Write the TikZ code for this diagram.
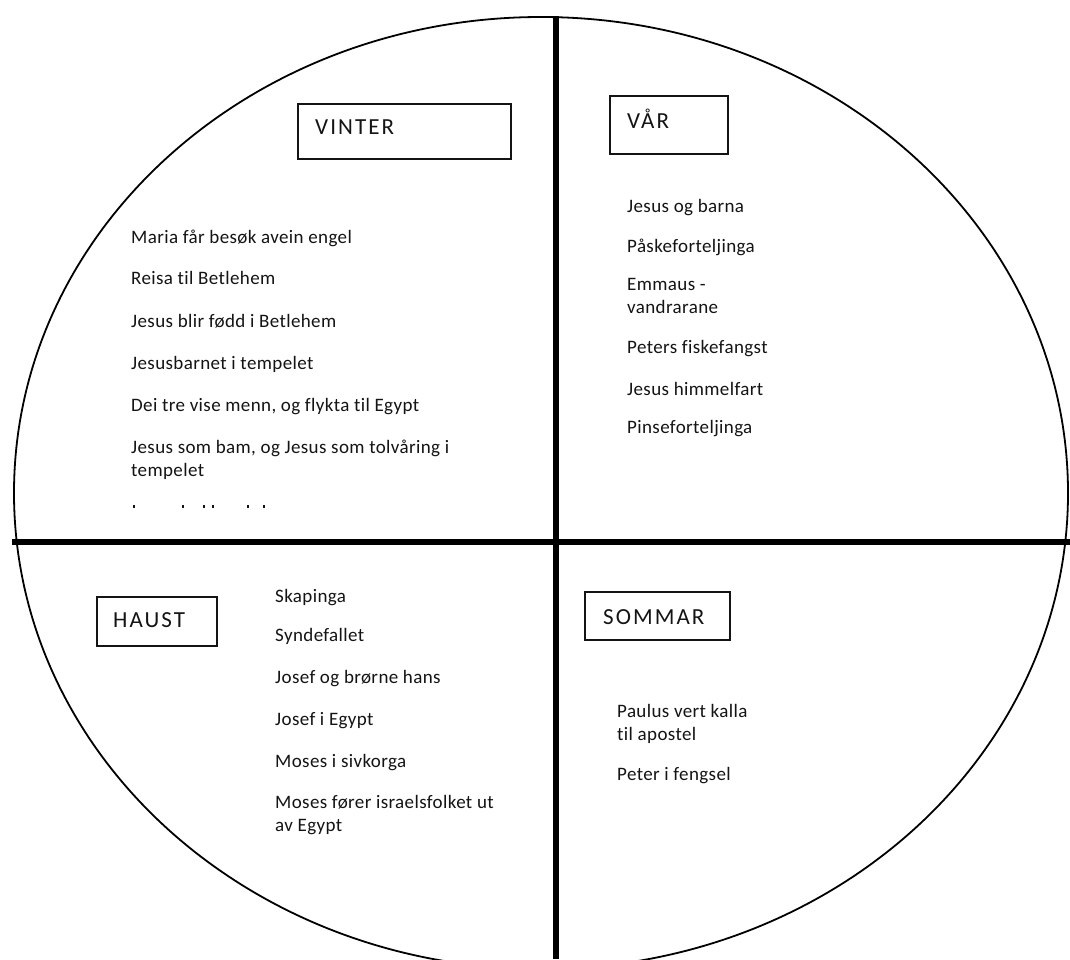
\documentclass[tikz,border=0pt]{standalone}
\usepackage{fontspec}
\setmainfont{Carlito}
\newfontfamily\listfont[LetterSpace=2,Ligatures={NoCommon}]{Carlito}
\newfontfamily\titlefont[LetterSpace=9,Ligatures={NoCommon}]{Carlito}
\definecolor{ink}{HTML}{141414}
\tikzset{
  divider/.style={line width=6pt, black},
  rim/.style={line width=1.8pt, black},
  seasonbox/.style={draw=ink, line width=2pt, rectangle, inner sep=0pt, anchor=north west},
  seasontitle/.style={anchor=base west, inner sep=0pt, text=ink, font=\titlefont\fontsize{23}{25}\selectfont},
  item/.style={anchor=base west, inner sep=0pt, text=ink, align=left, font=\listfont\fontsize{19}{22.5}\selectfont},
}
\begin{document}
\begin{tikzpicture}[x=1pt,y=-1pt]
\useasboundingbox (0,0) rectangle (1070,959);
\clip (0,0) rectangle (1070,959);
\fill[white] (0,0) rectangle (1070,959);
% outer ellipse
\draw[rim] (541,493) ellipse [x radius=527, y radius=476];
% dividers
\coordinate (vtop) at (555.5,16);
\coordinate (vbot) at (555.5,959);
\coordinate (hl) at (12,541.5);
\coordinate (hr) at (1070,541.5);
\draw[divider] (vtop) -- (vbot);
\draw[divider] (hl) -- (hr);
% boxes
\node[seasonbox, minimum width=213pt, minimum height=55pt] (vinterbox) at (297,103) {};
\node[seasontitle] (vinter) at (315,134) {VINTER};
\node[seasonbox, minimum width=118pt, minimum height=58pt] (varbox) at (609,95) {};
\node[seasontitle] (var) at (627,128) {VÅR};
\node[seasonbox, minimum width=120pt, minimum height=49pt] (haustbox) at (96,596) {};
\node[seasontitle] (haust) at (113,627) {HAUST};
\node[seasonbox, minimum width=145pt, minimum height=48pt] (sommarbox) at (584,591) {};
\node[seasontitle] (sommar) at (603,624) {SOMMAR};
% vinter list (multi-line items are anchored at the baseline of their last line)
\node[item] (v1) at (131,243) {Maria får besøk avein engel};
\node[item] (v2) at (131,284) {Reisa til Betlehem};
\node[item] (v3) at (131,327) {Jesus blir fødd i Betlehem};
\node[item] (v4) at (131,369) {Jesusbarnet i tempelet};
\node[item] (v5) at (131,411) {Dei tre vise menn, og flykta til Egypt};
\node[item] (v6) at (131,476) {Jesus som bam, og Jesus som tolvåring i\\tempelet};
\foreach \px in {133,182,203,212,247,263}
  \fill[ink] (\px,505) rectangle ++(1.6,2.5);
% var list
\node[item] (s1) at (627,212) {Jesus og barna};
\node[item] (s2) at (627,252) {Påskeforteljinga};
\node[item] (s3) at (627,313) {Emmaus -\\vandrarane};
\node[item] (s4) at (627,353) {Peters fiskefangst};
\node[item] (s5) at (627,395) {Jesus himmelfart};
\node[item] (s6) at (627,433) {Pinseforteljinga};
% haust list
\node[item] (h1) at (275,602) {Skapinga};
\node[item] (h2) at (275,641) {Syndefallet};
\node[item] (h3) at (275,683) {Josef og brørne hans};
\node[item] (h4) at (275,725) {Josef i Egypt};
\node[item] (h5) at (275,767) {Moses i sivkorga};
\node[item] (h6) at (275,831) {Moses fører israelsfolket ut\\av Egypt};
% sommar list
\node[item] (m1) at (617,740) {Paulus vert kalla\\til apostel};
\node[item] (m2) at (617,780) {Peter i fengsel};
\end{tikzpicture}
\end{document}
